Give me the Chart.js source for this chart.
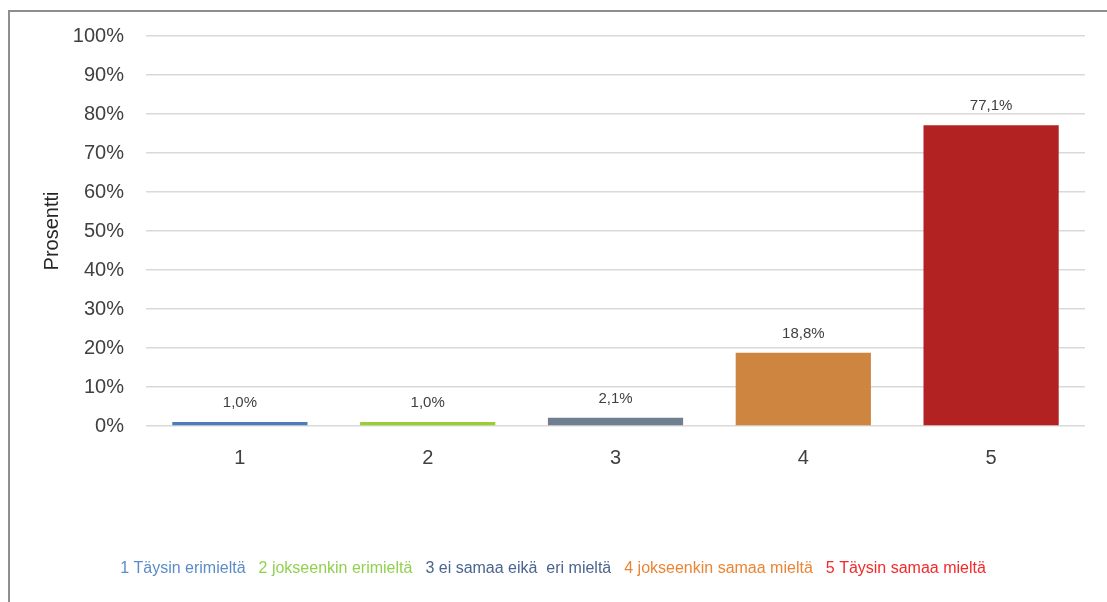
<!DOCTYPE html>
<html>
<head>
<meta charset="utf-8">
<script src="https://cdn.jsdelivr.net/npm/chart.js@4/dist/chart.umd.min.js"></script>
<style>
  body { margin: 0; background: #fff; }
  #frame {
    position: absolute; left: 8px; top: 10px; width: 1200px; height: 700px;
    border-left: 2px solid #8e8e8e; border-top: 2px solid #8e8e8e;
  }
  #wrap { position: absolute; left: 0; top: 0; width: 1107px; height: 602px; }
</style>
</head>
<body>
<div id="frame"></div>
<div id="wrap"><canvas id="chart"></canvas></div>
<script>
// answer categories on the x axis
let categories = ['1', '2', '3', '4', '5'];
// share of answers, percent
let percents = [1.0, 1.0, 2.1, 18.8, 77.1];
let barColors = ['#4a7ebb', '#9acd32', '#6f7f8f', '#cd853f', '#b22222'];

// legend texts under the chart
let legendTexts = [
    '1 Täysin erimieltä',
    '2 jokseenkin erimieltä',
    '3 ei samaa eikä  eri mieltä',
    '4 jokseenkin samaa mieltä',
    '5 Täysin samaa mieltä'
];
let legendColors = ['#5b8bc9', '#92d050', '#4a6590', '#ea8535', '#f22a2a'];

let font = 'Liberation Sans';

// percent value written above every bar
let valueLabels = {
    id: 'valueLabels',
    afterDatasetsDraw(chart) {
        let ctx = chart.ctx;
        let meta = chart.getDatasetMeta(0);
        ctx.save();
        ctx.font = '15px "' + font + '"';
        ctx.fillStyle = '#404040';
        ctx.textAlign = 'center';
        ctx.textBaseline = 'middle';
        meta.data.forEach((bar, i) => {
            let txt = percents[i].toFixed(1).replace('.', ',') + '%';
            ctx.fillText(txt, bar.x, bar.y - 19);
        });
        ctx.restore();
    }
};

let ctx = document.getElementById('chart').getContext('2d');

let chart = new Chart(ctx, {
    type: 'bar',
    data: {
        labels: categories,
        datasets: [{
            data: percents,
            backgroundColor: barColors,
            borderWidth: 0,
            categoryPercentage: 1,
            barPercentage: 0.72
        }]
    },
    options: {
        responsive: true,
        maintainAspectRatio: false,
        animation: false,
        layout: { padding: { left: 13, right: 22, top: 36, bottom: 15 } },
        plugins: {
            tooltip: { enabled: false },
            legend: {
                position: 'bottom',
                onClick: null,
                labels: {
                    boxWidth: 0,
                    padding: 5,
                    font: { family: font, size: 16 },
                    generateLabels: () => legendTexts.map((t, i) => ({
                        text: t,
                        fontColor: legendColors[i],
                        fillStyle: 'rgba(0,0,0,0)',
                        strokeStyle: 'rgba(0,0,0,0)',
                        lineWidth: 0,
                        hidden: false,
                        index: i
                    }))
                }
            }
        },
        scales: {
            x: {
                grid: { display: false },
                border: { display: false },
                ticks: { color: '#404040', padding: 12, font: { family: font, size: 20 } },
                afterFit: (scale) => { scale.height = 130; }
            },
            y: {
                min: 0,
                max: 100,
                border: { display: false },
                grid: { color: '#d9d9d9', lineWidth: 1.5, drawTicks: false },
                ticks: {
                    stepSize: 10,
                    padding: 22,
                    color: '#404040',
                    font: { family: font, size: 20 },
                    callback: (v) => v + '%'
                },
                title: {
                    display: true,
                    text: 'Prosentti',
                    color: '#262626',
                    padding: { top: 27, bottom: 0 },
                    font: { family: font, size: 20 }
                },
                afterFit: (scale) => { scale.width = 133; }
            }
        }
    },
    plugins: [valueLabels]
});
</script>
</body>
</html>
